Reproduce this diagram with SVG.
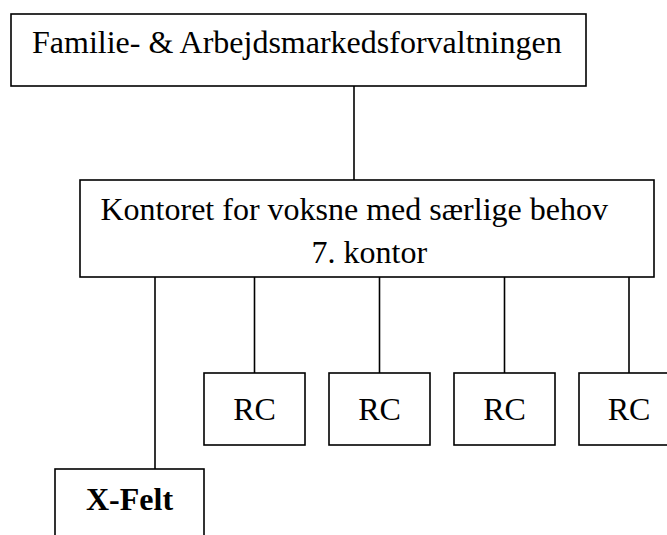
<svg xmlns="http://www.w3.org/2000/svg" width="667" height="535" viewBox="0 0 667 535">
  <style>
    .box { fill: #ffffff; stroke: #000000; stroke-width: 1.6; }
    .wire { fill: none; stroke: #000000; stroke-width: 1.6; }
    .lbl { font-family: 'Liberation Serif', 'Times New Roman', Times, serif; font-size: 32px; fill: #000000; }
    .mid { text-anchor: middle; }
    .bold { font-weight: bold; }
  </style>
  <rect x="0" y="0" width="667" height="535" fill="#ffffff"/>

  <!-- connectors -->
  <g id="connectors">
    <line class="wire" x1="354" y1="86" x2="354" y2="180"/>
    <line class="wire" x1="155" y1="277" x2="155" y2="469"/>
    <line class="wire" x1="254.5" y1="277" x2="254.5" y2="373"/>
    <line class="wire" x1="379.5" y1="277" x2="379.5" y2="373"/>
    <line class="wire" x1="504.5" y1="277" x2="504.5" y2="373"/>
    <line class="wire" x1="629" y1="277" x2="629" y2="373"/>
  </g>

  <g id="forvaltning">
    <rect class="box" x="11" y="14" width="575" height="72"/>
    <text class="lbl" x="32" y="53">Familie- &amp; Arbejdsmarkedsforvaltningen</text>
  </g>

  <g id="kontor">
    <rect class="box" x="80" y="180" width="574" height="97"/>
    <text class="lbl" x="100.5" y="220">Kontoret for voksne med særlige behov</text>
    <text class="lbl" x="311.5" y="263">7. kontor</text>
  </g>

  <g id="rc1">
    <rect class="box" x="204" y="373" width="101" height="72"/>
    <text class="lbl mid" x="254.5" y="420">RC</text>
  </g>
  <g id="rc2">
    <rect class="box" x="329" y="373" width="101" height="72"/>
    <text class="lbl mid" x="379.5" y="420">RC</text>
  </g>
  <g id="rc3">
    <rect class="box" x="454" y="373" width="101" height="72"/>
    <text class="lbl mid" x="504.5" y="420">RC</text>
  </g>
  <g id="rc4">
    <rect class="box" x="579" y="373" width="101" height="72"/>
    <text class="lbl mid" x="629" y="420">RC</text>
  </g>

  <g id="xfelt">
    <rect class="box" x="55" y="469" width="149" height="90"/>
    <text class="lbl mid bold" x="129.5" y="510">X-Felt</text>
  </g>
</svg>
